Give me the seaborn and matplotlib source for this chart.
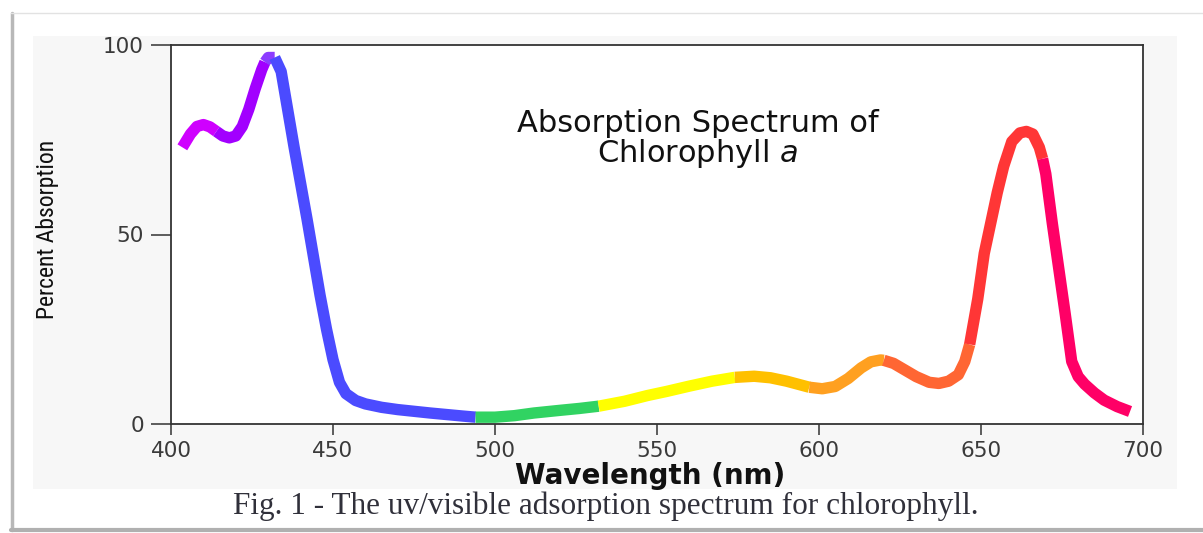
import numpy as np
import pandas as pd
import matplotlib
matplotlib.use("Agg")
import matplotlib.pyplot as plt
from matplotlib import font_manager
from matplotlib.patches import Rectangle
from matplotlib.lines import Line2D
import seaborn as sns

# ---------------- data ----------------
wavelength = [403.5, 406, 408, 410, 412, 414, 416, 418, 420, 422, 424, 426, 428, 429,
              430, 432, 434, 436, 438, 440, 442, 444, 446, 448, 450, 452, 454, 457,
              460, 465, 470, 480, 490, 494, 500, 506, 512, 520, 526, 532, 540, 547,
              553, 560, 567, 574, 580, 585, 590, 597, 601, 605, 609, 613, 616, 619,
              620, 623, 626, 630, 634, 637, 640, 643, 645, 646.5, 649, 651, 653, 655,
              657, 659.5, 662, 664, 666, 668, 669, 670, 672, 674, 676, 678, 680, 682,
              685, 688, 692, 696]
absorption = [73, 76.5, 78.5, 79, 78.4, 77.2, 76, 75.5, 76, 78.5, 83, 88.5, 93.5, 95.5,
              96.7, 96.7, 93, 83, 73, 63.5, 54, 44, 34, 25, 17, 11, 8, 6.2,
              5.3, 4.4, 3.8, 2.9, 2.1, 1.8, 1.8, 2.2, 2.9, 3.6, 4.1, 4.7, 6.0, 7.5,
              8.6, 10, 11.3, 12.3, 12.6, 12.2, 11.3, 9.7, 9.3, 9.9, 12, 14.8, 16.4, 16.9,
              16.8, 16, 14.5, 12.5, 11, 10.7, 11.3, 13, 16.5, 21, 33, 45, 53, 61,
              68, 74.5, 76.8, 77.2, 76.5, 73, 70, 66, 53, 41, 29, 16.5, 12.5, 10.5,
              8.2, 6.3, 4.6, 3.3]

band_names = ["violet1", "violet2", "violet3", "blue", "green", "yellow",
              "amber", "orange", "orangered", "red", "pink"]
band_start = [403.5, 414, 429, 432, 494, 532, 574, 597, 620, 646.5, 669]
band_end = [414, 429, 432, 494, 532, 574, 597, 620, 646.5, 669, 696]
band_colors = ["#cf00ff", "#a200ff", "#8c3cff", "#4b4bff", "#31d362", "#ffff00",
               "#ffc000", "#ffa020", "#ff6633", "#ff3636", "#ff0066"]

x_ticks = [400, 450, 500, 550, 600, 650, 700]
y_ticks = [0, 50, 100]

title_text = "Absorption Spectrum of\nChlorophyll $\\it{a}$"
x_label = "Wavelength (nm)"
y_label = "Percent Absorption"
caption = "Fig. 1 - The uv/visible adsorption spectrum for chlorophyll."

# ---------------- build table ----------------
rows = []
for name, s, e in zip(band_names, band_start, band_end):
    for w, a in zip(wavelength, absorption):
        if s <= w <= e:
            rows.append({"wavelength": w, "absorption": a, "band": name})
df = pd.DataFrame(rows)
palette = dict(zip(band_names, band_colors))

# ---------------- fonts ----------------
sns.set_theme(style="white")
available = {f.name for f in font_manager.fontManager.ttflist}
narrow = next((f for f in ["Liberation Sans Narrow", "DejaVu Sans Condensed",
                           "Roboto Condensed", "Liberation Sans"] if f in available),
              "DejaVu Sans")
serif = next((f for f in ["Liberation Serif", "DejaVu Serif"] if f in available), "DejaVu Serif")
plt.rcParams["font.family"] = ["DejaVu Sans"]

W, H = 1203, 533
fig = plt.figure(figsize=(W / 100, H / 100), dpi=100)
fig.patch.set_facecolor("white")

# grey panel behind the chart
fig.patches.append(Rectangle((33 / W, 1 - 489 / H), (1177 - 33) / W, (489 - 36) / H,
                             transform=fig.transFigure, facecolor="#f7f7f7",
                             edgecolor="none", zorder=-10))
# outer frame lines
fig.add_artist(Line2D([11.5 / W, 11.5 / W], [1 - 530 / H, 1 - 13 / H],
                      transform=fig.transFigure, color="#b8b8b8", linewidth=2.5, zorder=-5))
fig.add_artist(Line2D([11 / W, 1], [1 - 12.5 / H, 1 - 12.5 / H],
                      transform=fig.transFigure, color="#e2e2e2", linewidth=1, zorder=-5))
fig.add_artist(Line2D([11 / W, 1], [1 - 530 / H, 1 - 530 / H],
                      transform=fig.transFigure, color="#b0b0b0", linewidth=3, zorder=-5))

ax = fig.add_axes([171 / W, 1 - 424 / H, (1143 - 171) / W, (424 - 45) / H])
ax.set_zorder(1)
ax.set_facecolor("white")

sns.lineplot(data=df, x="wavelength", y="absorption", hue="band", palette=palette,
             hue_order=band_names, estimator=None, sort=True, legend=False,
             linewidth=8.2, ax=ax, solid_capstyle="butt", solid_joinstyle="round")

ax.set_xlim(400, 700)
ax.set_ylim(0, 100)
ax.set_xticks(x_ticks)
ax.set_yticks(y_ticks)
ax.tick_params(axis="x", direction="out", length=8, width=1.1, color="#333333",
               labelsize=15.5, labelcolor="#3a3a3a", pad=4, bottom=True)
ax.tick_params(axis="y", direction="out", length=14.5, width=1.1, color="#333333",
               labelsize=15.5, labelcolor="#3a3a3a", pad=5, left=True)
for sp in ax.spines.values():
    sp.set_visible(True)
    sp.set_color("#333333")
    sp.set_linewidth(1.3)

ax.set_xlabel(x_label, fontsize=20, fontweight="bold", color="#111111")
ax.xaxis.set_label_coords((650 - 171) / 972, (424 - 476) / 379)
ax.xaxis.label.set_verticalalignment("center")
ax.set_ylabel(y_label, fontsize=17, family=[narrow, "DejaVu Sans"], color="#111111")
ax.yaxis.set_label_coords((48 - 171) / 972, (424 - 229) / 379)
ax.yaxis.label.set_verticalalignment("center")

ax.text(562.5, 75, title_text, ha="center", va="center", multialignment="center",
        fontsize=22, color="#111111", linespacing=0.95)

fig.text(606 / W, 1 - 506 / H, caption, ha="center", va="center",
         fontsize=22.5, family=[serif, "DejaVu Serif"], color="#30303a")

fig.savefig("out.png", dpi=100, facecolor="white")
